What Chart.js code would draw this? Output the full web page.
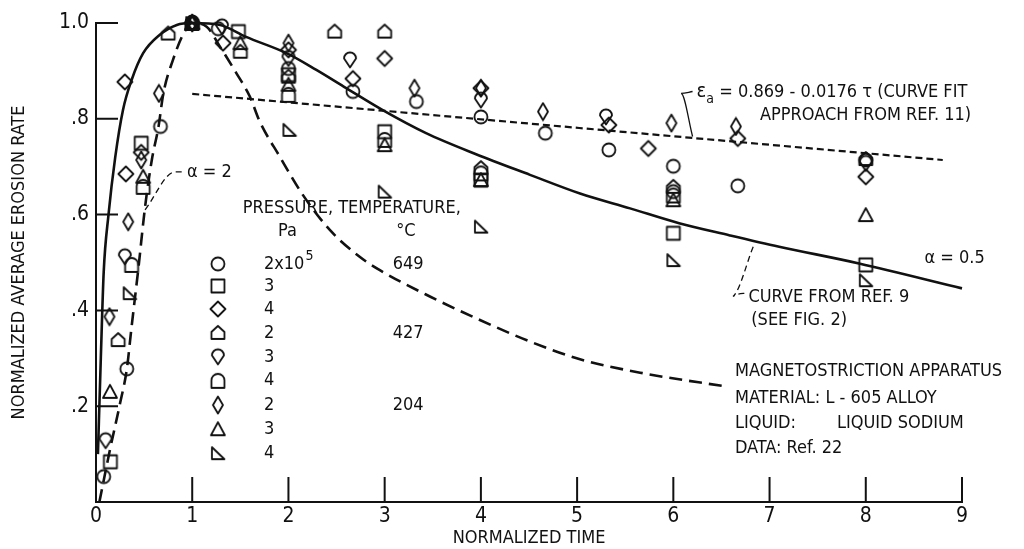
<!DOCTYPE html>
<html>
<head>
<meta charset="utf-8">
<title>Normalized average erosion rate</title>
<script src="https://cdn.jsdelivr.net/npm/chart.js@4.4.1/dist/chart.umd.min.js"></script>
<style>
  html, body { margin: 0; padding: 0; background: #fff; }
  #wrap { width: 1024px; height: 549px; }
</style>
</head>
<body>
<div id="wrap"><canvas id="erosion-chart" width="1024" height="549"></canvas></div>
<script>
"use strict";

var FONT = "'Liberation Sans Narrow', 'DejaVu Sans Condensed', 'Arial Narrow', sans-serif";
var INK = "#111";

// axes
var xTickValues = [0, 1, 2, 3, 4, 5, 6, 7, 8, 9];
var yTickLabels = ["", ".2", ".4", ".6", ".8", "1.0"];

// curve from ref. 9, alpha = 0.5 (solid)
var ref9X = [0.02, 0.05, 0.08, 0.13, 0.20, 0.28, 0.37, 0.49, 0.66, 0.84, 1.0, 1.29, 1.56, 1.98, 2.29, 2.60, 2.98, 3.43, 3.95, 4.51, 5.03, 5.55, 6.06, 6.58, 7.10, 7.93, 9.0];
var ref9Y = [0.10, 0.30, 0.48, 0.60, 0.72, 0.818, 0.881, 0.937, 0.975, 0.996, 1.0, 0.996, 0.971, 0.937, 0.902, 0.864, 0.818, 0.770, 0.726, 0.683, 0.644, 0.613, 0.582, 0.557, 0.533, 0.498, 0.446];

// alpha = 2 curve (long dashes)
var alpha2X = [0.035, 0.145, 0.25, 0.32, 0.37, 0.44, 0.51, 0.58, 0.65, 0.70, 0.80, 0.91, 1.0, 1.15, 1.29, 1.46, 1.60, 1.70, 1.91, 2.14, 2.43, 2.74, 2.95, 3.47, 3.99, 4.51, 5.03, 5.68, 6.55];
var alpha2Y = [0.0, 0.109, 0.206, 0.277, 0.366, 0.487, 0.616, 0.714, 0.784, 0.853, 0.923, 0.978, 1.0, 0.992, 0.95, 0.895, 0.846, 0.795, 0.721, 0.644, 0.568, 0.512, 0.484, 0.429, 0.380, 0.335, 0.298, 0.269, 0.241];

// curve fit approach from ref. 11 (short dashes)
var fitX = [1.0, 8.8];
var fitY = [0.852, 0.714];

// leader lines for the notes
var leadAlphaX = [0.51, 0.82, 0.92];
var leadAlphaY = [0.610, 0.689, 0.689];
var leadFitX = [6.20, 6.08, 6.20];
var leadFitY = [0.763, 0.853, 0.857];
var leadRef9X = [6.83, 6.62, 6.76];
var leadRef9Y = [0.533, 0.429, 0.436];

// data, ref. 22 -- 649 C
var circleX = [0.08, 0.32, 0.67, 1.0, 1.27, 2.0, 2.67, 3.33, 4.0, 4.67, 5.33, 6.0, 6.0, 6.67, 8.0];
var circleY = [0.053, 0.278, 0.784, 1.0, 0.988, 0.905, 0.857, 0.836, 0.804, 0.770, 0.735, 0.701, 0.648, 0.660, 0.714];
var squareX = [0.15, 0.47, 1.48, 2.0, 3.0, 4.0, 6.0, 8.0];
var squareY = [0.084, 0.749, 0.982, 0.892, 0.773, 0.672, 0.561, 0.495];
var diamondX = [0.30, 0.31, 0.47, 1.0, 1.32, 2.0, 2.67, 3.0, 4.0, 5.33, 5.74, 6.67, 8.0];
var diamondY = [0.877, 0.685, 0.730, 1.0, 0.958, 0.944, 0.884, 0.926, 0.864, 0.787, 0.738, 0.759, 0.679];
// 427 C
var houseX = [0.23, 0.75, 1.0, 1.50, 2.0, 2.48, 3.0, 4.0, 6.0, 8.0];
var houseY = [0.338, 0.978, 1.0, 0.940, 0.888, 0.982, 0.982, 0.697, 0.658, 0.716];
var dropX = [0.10, 0.30, 1.0, 1.31, 2.0, 2.64, 4.0, 5.30, 8.0];
var dropY = [0.128, 0.512, 1.0, 0.992, 0.926, 0.923, 0.839, 0.804, 0.707];
var archX = [0.37, 0.49, 1.0, 2.0, 3.0, 4.0, 6.0];
var archY = [0.495, 0.658, 1.0, 0.850, 0.756, 0.686, 0.640];
// 204 C
var slimX = [0.14, 0.335, 0.47, 0.654, 1.0, 2.0, 3.31, 4.0, 4.645, 5.98, 6.65];
var slimY = [0.387, 0.585, 0.714, 0.853, 1.0, 0.958, 0.864, 0.864, 0.815, 0.791, 0.784];
var triX = [0.145, 0.49, 1.0, 1.50, 2.0, 3.0, 4.0, 6.0, 8.0];
var triY = [0.230, 0.679, 1.0, 0.958, 0.871, 0.745, 0.672, 0.630, 0.599];
var rtriX = [0.35, 1.0, 2.01, 3.0, 4.0, 6.0, 8.0];
var rtriY = [0.436, 1.0, 0.777, 0.648, 0.575, 0.505, 0.463];

// legend table
var legendPressure = ["2x10", "3", "4", "2", "3", "4", "2", "3", "4"];
var legendTemp = ["649", "", "", "427", "", "", "204", "", ""];

function pts(xs, ys) {
  return xs.map(function(x, i) { return { x: x, y: ys[i] }; });
}

// hollow marker drawn on a small canvas, used as pointStyle
function marker(shape) {
  var c = document.createElement("canvas");
  c.width = 20; c.height = 20;
  var g = c.getContext("2d");
  g.strokeStyle = INK;
  g.lineWidth = 1.8;
  g.lineJoin = "round";
  g.beginPath();
  if (shape === "circle") {
    g.arc(10, 10, 6.5, 0, Math.PI * 2);
  } else if (shape === "square") {
    g.rect(3.5, 3.5, 13, 13);
  } else if (shape === "diamond") {
    g.moveTo(10, 2.5); g.lineTo(17.5, 10); g.lineTo(10, 17.5); g.lineTo(2.5, 10); g.closePath();
  } else if (shape === "house") {
    g.moveTo(3.5, 16); g.lineTo(16.5, 16); g.lineTo(16.5, 9); g.lineTo(10, 3); g.lineTo(3.5, 9); g.closePath();
  } else if (shape === "drop") {
    g.arc(10, 8.5, 6, Math.PI, 0); g.lineTo(10, 17.5); g.closePath();
  } else if (shape === "arch") {
    g.arc(10, 9.5, 6.5, Math.PI, 0); g.lineTo(16.5, 17); g.lineTo(3.5, 17); g.closePath();
  } else if (shape === "slim") {
    g.moveTo(10, 1.5); g.lineTo(15, 10); g.lineTo(10, 18.5); g.lineTo(5, 10); g.closePath();
  } else if (shape === "tri") {
    g.moveTo(10, 3); g.lineTo(17, 16); g.lineTo(3, 16); g.closePath();
  } else if (shape === "rtri") {
    g.moveTo(4, 4); g.lineTo(4, 16); g.lineTo(16.5, 16); g.closePath();
  }
  g.stroke();
  return c;
}

var shapes = ["circle", "square", "diamond", "house", "drop", "arch", "slim", "tri", "rtri"];
var markers = shapes.map(marker);
var seriesX = [circleX, squareX, diamondX, houseX, dropX, archX, slimX, triX, rtriX];
var seriesY = [circleY, squareY, diamondY, houseY, dropY, archY, slimY, triY, rtriY];

function curve(xs, ys, width, dash) {
  return {
    type: "line",
    data: pts(xs, ys),
    borderColor: INK,
    borderWidth: width,
    borderDash: dash,
    pointRadius: 0,
    cubicInterpolationMode: "monotone",
    fill: false,
    clip: false
  };
}

var datasets = [
  curve(ref9X, ref9Y, 2.6, []),
  curve(alpha2X, alpha2Y, 2.6, [13, 7]),
  curve(fitX, fitY, 2.2, [7, 4]),
  curve(leadAlphaX, leadAlphaY, 1.3, [6, 4]),
  curve(leadFitX, leadFitY, 1.3, []),
  curve(leadRef9X, leadRef9Y, 1.3, [6, 4])
];
seriesX.forEach(function(xs, i) {
  datasets.push({
    data: pts(xs, seriesY[i]),
    pointStyle: markers[i],
    pointRadius: 7,
    showLine: false,
    clip: false
  });
});

// inward tick marks like the original plot
var innerTicks = {
  id: "innerTicks",
  afterDraw: function(chart) {
    var ctx = chart.ctx, xs = chart.scales.x, ys = chart.scales.y;
    ctx.save();
    ctx.strokeStyle = INK;
    ctx.lineWidth = 2;
    ctx.beginPath();
    xTickValues.slice(1).forEach(function(v) {
      var px = xs.getPixelForValue(v);
      ctx.moveTo(px, ys.bottom); ctx.lineTo(px, ys.bottom - 25);
    });
    [0.2, 0.4, 0.6, 0.8, 1.0].forEach(function(v) {
      var py = ys.getPixelForValue(v);
      ctx.moveTo(xs.left, py); ctx.lineTo(xs.left + 22, py);
    });
    ctx.stroke();
    ctx.restore();
  }
};

// notes and the symbol table
var notes = {
  id: "notes",
  afterDraw: function(chart) {
    var ctx = chart.ctx, xs = chart.scales.x, ys = chart.scales.y;
    function px(v) { return xs.getPixelForValue(v); }
    function py(v) { return ys.getPixelForValue(v); }
    function text(s, x, y, size, align) {
      ctx.font = (size || 18) + "px " + FONT;
      ctx.textAlign = align || "left";
      ctx.fillText(s, px(x), py(y));
      return px(x) + ctx.measureText(s).width;
    }
    ctx.save();
    ctx.fillStyle = INK;
    ctx.textBaseline = "middle";

    text("\u03b1 = 2", 0.945, 0.689);

    var e = text("\u03b5", 6.24, 0.856, 20);
    ctx.font = "14px " + FONT;
    ctx.textAlign = "left";
    ctx.fillText("a", e, py(0.856) + 7);
    ctx.font = "18px " + FONT;
    ctx.fillText(" = 0.869 - 0.0176 \u03c4 (CURVE FIT", e + 8, py(0.856));
    text("APPROACH FROM REF. 11)", 6.90, 0.808);

    text("\u03b1 = 0.5", 8.61, 0.509);
    text("CURVE FROM REF. 9", 6.78, 0.428);
    text("(SEE FIG. 2)", 6.81, 0.380);

    text("MAGNETOSTRICTION APPARATUS", 6.64, 0.272);
    text("MATERIAL: L - 605 ALLOY", 6.64, 0.217);
    text("LIQUID:", 6.64, 0.165);
    text("LIQUID SODIUM", 7.70, 0.165);
    text("DATA: Ref. 22", 6.64, 0.113);

    text("PRESSURE, TEMPERATURE,", 1.525, 0.614);
    text("Pa", 1.99, 0.566, 18, "center");
    text("\u00b0C", 3.22, 0.566, 18, "center");

    var rowY = [0.497, 0.451, 0.403, 0.353, 0.303, 0.253, 0.2025, 0.152, 0.102];
    rowY.forEach(function(y, i) {
      var m = markers[i];
      ctx.drawImage(m, px(1.267) - m.width / 2, py(y) - m.height / 2);
      var end = text(legendPressure[i], 1.745, y);
      if (i === 0) {
        ctx.font = "14px " + FONT;
        ctx.fillText("5", end + 1, py(y) - 8);
      }
      if (legendTemp[i]) text(legendTemp[i], 3.084, y);
    });
    ctx.restore();
  }
};

new Chart(document.getElementById("erosion-chart"), {
  type: "scatter",
  data: { datasets: datasets },
  options: {
    responsive: false,
    animation: false,
    layout: { padding: { left: 0, right: 62, top: 23, bottom: 0 } },
    plugins: {
      legend: { display: false },
      tooltip: { enabled: false }
    },
    scales: {
      x: {
        type: "linear",
        min: 0,
        max: 9,
        afterFit: function(s) { s.height = 47; },
        afterBuildTicks: function(s) { s.ticks = xTickValues.map(function(v) { return { value: v }; }); },
        grid: { display: false, drawTicks: false },
        border: { display: true, color: INK, width: 2 },
        ticks: { color: INK, padding: 2, font: { family: FONT, size: 21 }, maxRotation: 0 },
        title: { display: true, text: "NORMALIZED TIME", color: INK, font: { family: FONT, size: 18 }, padding: { top: 0, bottom: 0 } }
      },
      y: {
        type: "linear",
        min: 0,
        max: 1,
        afterFit: function(s) { s.width = 96; },
        ticks: {
          stepSize: 0.2,
          color: INK,
          padding: 7,
          font: { family: FONT, size: 21 },
          callback: function(v) { return yTickLabels[Math.round(v / 0.2)]; }
        },
        grid: { display: false, drawTicks: false },
        border: { display: true, color: INK, width: 2 },
        title: { display: true, text: "NORMALIZED AVERAGE EROSION RATE", color: INK, font: { family: FONT, size: 18 }, padding: { top: 9, bottom: 0 } }
      }
    }
  },
  plugins: [innerTicks, notes]
});
</script>
</body>
</html>
